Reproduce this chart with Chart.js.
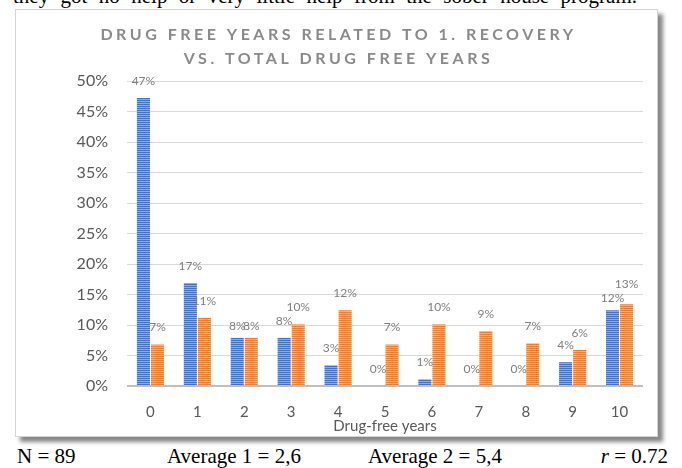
<!DOCTYPE html>
<html>
<head>
<meta charset="utf-8">
<script src="https://cdn.jsdelivr.net/npm/chart.js@4.4.1/dist/chart.umd.min.js"></script>
<style>
  html, body { margin: 0; padding: 0; background: #fff; }
  body { width: 682px; height: 468px; position: relative; overflow: hidden; font-family: "Liberation Serif", serif; }
  .lead { position: absolute; left: 13px; top: -15px; width: 624px; font-size: 21px; line-height: 23px;
          text-align: justify; text-align-last: justify; color: #000; }
  .box { position: absolute; left: 15px; top: 9px; width: 641px; height: 426px; border: 1px solid #d4d4d4; background: #fff;
         box-shadow: 5px 5px 4px rgba(70, 70, 70, 0.65); }
  .box canvas { display: block; }
  .foot { position: absolute; top: 445px; font-size: 21px; line-height: 23px; white-space: nowrap; color: #000; }
</style>
</head>
<body>
<div class="lead">they got no help or very little help from the sober house program.</div>
<div class="box"><canvas id="chart" width="641" height="426"></canvas></div>
<div class="foot" style="left:17px">N = 89</div>
<div class="foot" style="left:167px">Average 1 = 2,6</div>
<div class="foot" style="left:368px">Average 2 = 5,4</div>
<div class="foot" style="right:14px"><i>r</i> = 0.72</div>

<script>
  const years = ["0", "1", "2", "3", "4", "5", "6", "7", "8", "9", "10"];
  const recovery = [47.2, 16.9, 7.9, 7.9, 3.4, 0, 1.1, 0, 0, 3.9, 12.4];
  const totalFree = [6.8, 11.2, 7.9, 10.1, 12.4, 6.8, 10.1, 9.0, 7.0, 5.9, 13.4];
  const titleLines = ["DRUG FREE YEARS RELATED TO 1. RECOVERY", "VS. TOTAL DRUG FREE YEARS"];

  // striped fill like the excel pattern
  function stripes(base, light) {
    const c = document.createElement("canvas");
    c.width = 2;
    c.height = 2;
    const g = c.getContext("2d");
    g.fillStyle = base;
    g.fillRect(0, 0, 2, 1);
    g.fillStyle = light;
    g.fillRect(0, 1, 2, 1);
    return g.createPattern(c, "repeat");
  }

  const titlePlugin = {
    id: "spacedTitle",
    afterDraw(chart) {
      const ctx = chart.ctx;
      ctx.save();
      ctx.font = "bold 16px Lato";
      ctx.fillStyle = "#8a8a8a";
      ctx.textAlign = "center";
      ctx.textBaseline = "middle";
      if ("letterSpacing" in ctx) ctx.letterSpacing = "3.5px";
      titleLines.forEach((line, i) => ctx.fillText(line, chart.width / 2 + 2, 25 + i * 24));
      ctx.restore();
    }
  };

  const labelPlugin = {
    id: "barLabels",
    afterDatasetsDraw(chart) {
      const ctx = chart.ctx;
      const a = chart.getDatasetMeta(0).data;
      const b = chart.getDatasetMeta(1).data;
      ctx.save();
      ctx.font = "12px Lato";
      ctx.fillStyle = "#7f7f7f";
      ctx.textAlign = "center";
      ctx.textBaseline = "middle";
      years.forEach((_, j) => {
        let offA = 17, offB = 17;
        // pull close labels apart the way excel does
        const gap = a[j].y - b[j].y;
        if (Math.abs(gap) < 12) {
          if (gap > 0) { offA = 12; offB = 20; }
          else if (gap < 0) { offA = 20; offB = 12; }
          else { offA = 12; offB = 12; }
        }
        ctx.fillText(Math.round(recovery[j]) + "%", a[j].x, a[j].y - offA);
        ctx.fillText(Math.round(totalFree[j]) + "%", b[j].x, b[j].y - offB);
      });
      ctx.restore();
    }
  };

  new Chart(document.getElementById("chart"), {
    type: "bar",
    data: {
      labels: years,
      datasets: [
        { label: "1. recovery", data: recovery, backgroundColor: stripes("#4472c4", "#8eaadc") },
        { label: "total", data: totalFree, backgroundColor: stripes("#ed7d31", "#f6b285") }
      ]
    },
    options: {
      responsive: false,
      animation: false,
      categoryPercentage: 0.6,
      barPercentage: 0.93,
      layout: { padding: { top: 71, right: 14, left: 0, bottom: 0 } },
      plugins: { legend: { display: false }, tooltip: { enabled: false } },
      scales: {
        x: {
          grid: { display: false },
          border: { display: false },
          ticks: { color: "#595959", font: { family: "Lato", size: 15 }, padding: 9 },
          title: { display: true, text: "Drug-free years", color: "#595959", font: { family: "Lato", size: 15 }, padding: { top: 0, bottom: 1 } },
          afterFit: s => { s.height = 50; }
        },
        y: {
          min: 0,
          max: 50,
          grid: {
            drawTicks: false,
            color: c => c.tick.value === 0 ? "#bfbfbf" : "#d9d9d9",
            lineWidth: c => c.tick.value === 0 ? 2 : 1
          },
          border: { display: false },
          ticks: { stepSize: 5, padding: 19, color: "#595959", font: { family: "Lato", size: 16 }, callback: v => v + "%" },
          afterFit: s => { s.width = 111; }
        }
      }
    },
    plugins: [titlePlugin, labelPlugin]
  });
</script>
</body>
</html>
